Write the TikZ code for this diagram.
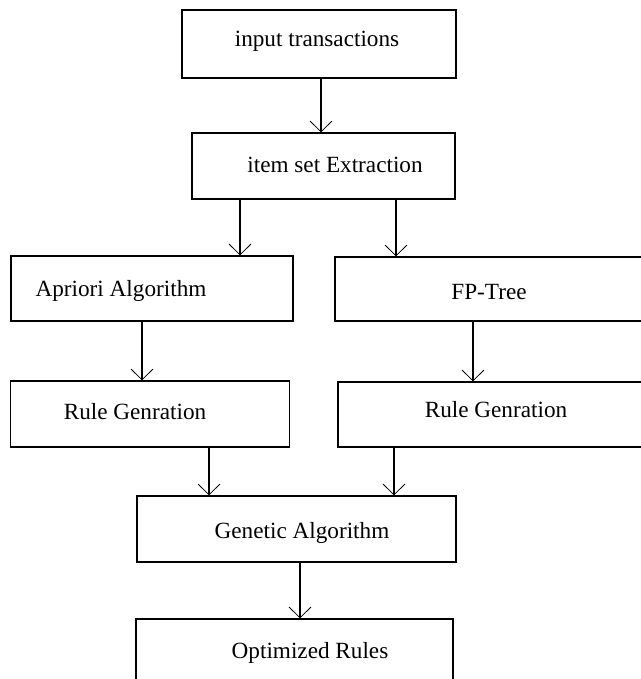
\documentclass[tikz,border=0pt]{standalone}
\usepackage{fontspec}
\setmainfont{Liberation Serif}
\usetikzlibrary{arrows.meta}
\newcommand{\FlowPx}{0.025cm}

\tikzset{
	box/.style={draw, line width=0.9pt, inner sep=0pt},
	boxtext/.style={font=\fontsize{16.5}{19}\selectfont, inner sep=0pt, anchor=base},
	flow/.style={line width=0.9pt, -{Straight Barb[length=0.27cm, width=0.55cm, line width=0.55pt]}},
}

\begin{document}
\begin{tikzpicture}[x=\FlowPx, y=-\FlowPx]
		\useasboundingbox (0,0) rectangle (640,679);
		\node[box, minimum width=274*\FlowPx, minimum height=68*\FlowPx] (input) at (319,44) {};
		\node[box, minimum width=263*\FlowPx, minimum height=66*\FlowPx] (items) at (323.5,166) {};
		\node[box, minimum width=282*\FlowPx, minimum height=65*\FlowPx] (apriori) at (152,288.5) {};
		\node[box, minimum width=307*\FlowPx, minimum height=64*\FlowPx] (fptree) at (488.5,289) {};
		\node[box, minimum width=279*\FlowPx, minimum height=66*\FlowPx] (rulesl) at (150,414) {};
		\node[box, minimum width=304*\FlowPx, minimum height=65*\FlowPx] (rulesr) at (490,414.5) {};
		\node[box, minimum width=319*\FlowPx, minimum height=66*\FlowPx] (genetic) at (296.5,529) {};
		\node[box, minimum width=317*\FlowPx, minimum height=66*\FlowPx] (optim) at (294.5,652) {};
		\node[boxtext] (input-t) at (317,46) {input transactions};
		\node[boxtext] (items-t) at (335,172.5) {item set Extraction};
		\node[boxtext] (apriori-t) at (121,296.5) {Apriori Algorithm};
		\node[boxtext] (fptree-t) at (489,299) {FP-Tree};
		\node[boxtext] (rulesl-t) at (135,419) {Rule Genration};
		\node[boxtext] (rulesr-t) at (496,417.5) {Rule Genration};
		\node[boxtext] (genetic-t) at (302,538) {Genetic Algorithm};
		\node[boxtext] (optim-t) at (310,658) {Optimized Rules};
		\draw[flow] (input.south) ++(2,0) coordinate (a1) -- (a1 |- items.north);
		\draw[flow] (items.south) ++(-83.5,0) coordinate (a2) -- (a2 |- apriori.north);
		\draw[flow] (items.south) ++(72.5,0) coordinate (a3) -- (a3 |- fptree.north);
		\draw[flow] (apriori.south) ++(-10,0) coordinate (a4) -- (a4 |- rulesl.north);
		\draw[flow] (fptree.south) ++(-15.5,0) coordinate (a5) -- (a5 |- rulesr.north);
		\draw[flow] (rulesl.south) ++(59,0) coordinate (a6) -- (a6 |- genetic.north);
		\draw[flow] (rulesr.south) ++(-96,0) coordinate (a7) -- (a7 |- genetic.north);
		\draw[flow] (genetic.south) ++(3.5,0) coordinate (a8) -- (a8 |- optim.north);
\end{tikzpicture}
\end{document}
